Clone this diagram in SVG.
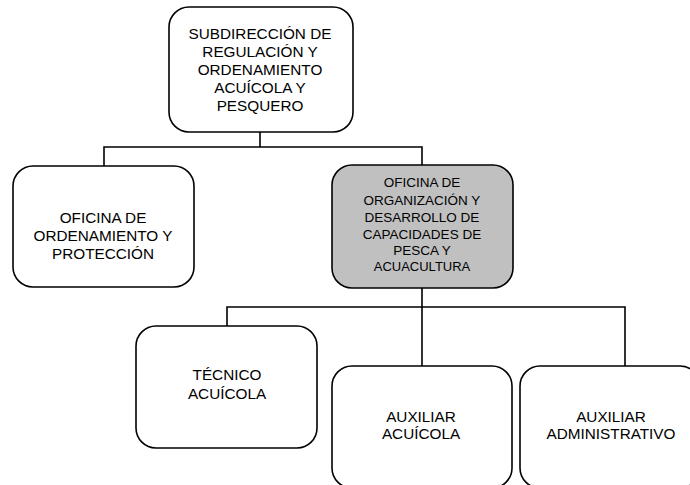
<svg xmlns="http://www.w3.org/2000/svg" width="690" height="485" viewBox="0 0 690 485">
<style>
.box{fill:#ffffff;stroke:#000000;stroke-width:1.6}
.shaded{fill:#c0c0c0;stroke:#000000;stroke-width:1.6}
.t{font-family:"Liberation Sans",Arial,sans-serif;font-size:15.3px;fill:#000000;text-anchor:middle}
.s{font-size:13.5px}
.xs{font-size:13px}
.con{fill:none;stroke:#000000;stroke-width:1.6}
</style>
<rect width="690" height="485" fill="#ffffff"/>
<g id="connectors">
<path class="con" d="M260,132 V147 M104,166 V147 H422 V165"/>
<path class="con" d="M422,288 V307 M227,326 V307 H625 V366 M422,307 V366"/>
</g>
<g id="n-subdireccion">
<rect class="box" x="169" y="7" width="184" height="125" rx="20" ry="20"/>
<text class="t" x="260" y="39">SUBDIRECCIÓN DE</text>
<text class="t" x="260" y="57">REGULACIÓN Y</text>
<text class="t" x="260" y="75">ORDENAMIENTO</text>
<text class="t" x="260" y="93">ACUÍCOLA Y</text>
<text class="t" x="260" y="111">PESQUERO</text>
</g>
<g id="n-ordenamiento">
<rect class="box" x="13" y="166" width="181" height="121" rx="20" ry="20"/>
<text class="t" x="103" y="222.5">OFICINA DE</text>
<text class="t" x="103" y="240.5">ORDENAMIENTO Y</text>
<text class="t" x="103" y="258.5">PROTECCIÓN</text>
</g>
<g id="n-organizacion">
<rect class="shaded" x="332" y="165" width="181" height="123" rx="20" ry="20"/>
<text class="t s" x="422" y="187">OFICINA DE</text>
<text class="t s" x="422" y="205">ORGANIZACIÓN Y</text>
<text class="t s" x="422" y="222">DESARROLLO DE</text>
<text class="t s" x="422" y="239">CAPACIDADES DE</text>
<text class="t s" x="422" y="255">PESCA Y</text>
<text class="t xs" x="422" y="270.5">ACUACULTURA</text>
</g>
<g id="n-tecnico">
<rect class="box" x="136" y="326" width="181" height="122" rx="20" ry="20"/>
<text class="t" x="227" y="380">TÉCNICO</text>
<text class="t" x="227" y="399">ACUÍCOLA</text>
</g>
<g id="n-aux-acuicola">
<rect class="box" x="332" y="366" width="180" height="122" rx="20" ry="20"/>
<text class="t" x="421" y="421.5">AUXILIAR</text>
<text class="t" x="421" y="439">ACUÍCOLA</text>
</g>
<g id="n-aux-admin">
<rect class="box" x="520" y="366" width="180" height="122" rx="20" ry="20"/>
<text class="t" x="611" y="421.5">AUXILIAR</text>
<text class="t" x="611" y="439">ADMINISTRATIVO</text>
</g>
</svg>
